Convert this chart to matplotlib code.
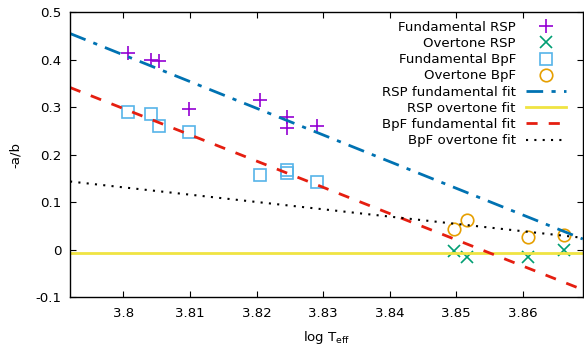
import numpy as np
import matplotlib
matplotlib.use("Agg")
import matplotlib.pyplot as plt
from matplotlib.ticker import FuncFormatter

# data
fund_rsp_logt = [3.8007, 3.8042, 3.8054, 3.8099, 3.8205, 3.8245, 3.8245, 3.8291]
fund_rsp_ab = [0.415, 0.400, 0.398, 0.295, 0.316, 0.280, 0.255, 0.261]

over_rsp_logt = [3.8497, 3.8516, 3.8607, 3.8661]
over_rsp_ab = [-0.002, -0.015, -0.015, 0.000]

fund_bpf_logt = [3.8007, 3.8042, 3.8054, 3.8099, 3.8205, 3.8245, 3.8246, 3.8291]
fund_bpf_ab = [0.290, 0.285, 0.260, 0.248, 0.158, 0.168, 0.162, 0.143]

over_bpf_logt = [3.8497, 3.8516, 3.8607, 3.8661]
over_bpf_ab = [0.044, 0.063, 0.027, 0.031]

# linear fits: (slope, value at logT = 3.80)
fit_rsp_fund = (-5.62, 0.410)
fit_rsp_over = (0.0, -0.007)
fit_bpf_fund = (-5.53, 0.297)
fit_bpf_over = (-1.54, 0.131)

xmin, xmax = 3.792, 3.869
fs = 9.6

fig = plt.figure(figsize=(5.84, 3.47), dpi=100)
ax = fig.add_axes([0.12, 0.144, 0.878, 0.821])

ax.plot(fund_rsp_logt, fund_rsp_ab, ls="none", marker="+", ms=10, mew=1.2,
        color="#9400d3", label="Fundamental RSP")
ax.plot(over_rsp_logt, over_rsp_ab, ls="none", marker="x", ms=9, mew=1.2,
        color="#009e73", label="Overtone RSP")
ax.plot(fund_bpf_logt, fund_bpf_ab, ls="none", marker="s", ms=9, mew=1.2,
        mfc="none", color="#56b4e9", label="Fundamental BpF")
ax.plot(over_bpf_logt, over_bpf_ab, ls="none", marker="o", ms=9, mew=1.2,
        mfc="none", color="#e69f00", label="Overtone BpF")

xx = np.array([xmin, xmax])
def fitline(p):
    return p[1] + p[0] * (xx - 3.80)

ax.plot(xx, fitline(fit_rsp_fund), color="#0072b2", lw=2,
        dashes=(6, 3, 1.5, 3), label="RSP fundamental fit")
ax.plot(xx, fitline(fit_rsp_over), color="#f0e442", lw=2,
        label="RSP overtone fit")
ax.plot(xx, fitline(fit_bpf_fund), color="#e51e10", lw=2,
        dashes=(4, 4), label="BpF fundamental fit")
ax.plot(xx, fitline(fit_bpf_over), color="black", lw=1.5,
        dashes=(1, 3), label="BpF overtone fit")

ax.set_xlim(xmin, xmax)
ax.set_ylim(-0.1, 0.5)
ax.set_xticks([3.80, 3.81, 3.82, 3.83, 3.84, 3.85, 3.86])
ax.set_yticks([-0.1, 0, 0.1, 0.2, 0.3, 0.4, 0.5])
fmt = FuncFormatter(lambda v, p: "%g" % round(v, 4))
ax.xaxis.set_major_formatter(fmt)
ax.yaxis.set_major_formatter(fmt)
ax.tick_params(direction="in", top=True, right=True, length=4,
               labelsize=fs, pad=6)
ax.tick_params(axis="x", pad=7)
for s in ax.spines.values():
    s.set_linewidth(1)

ax.set_xlabel(r"log T$_{\rm eff}$", fontsize=fs, labelpad=7)
ax.set_ylabel("-a/b", fontsize=fs, labelpad=10)

ax.legend(loc="upper right", markerfirst=False, frameon=False, fontsize=fs,
          handlelength=3.0, labelspacing=0.24, handletextpad=0.75,
          borderaxespad=0.25, bbox_to_anchor=(0.984, 1.0))

fig.savefig("out.png", dpi=100)
